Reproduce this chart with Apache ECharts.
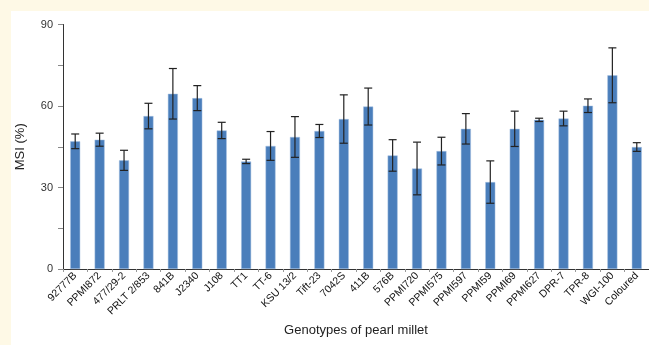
<!DOCTYPE html>
<html><head><meta charset="utf-8">
<script src="https://cdn.jsdelivr.net/npm/echarts@6/dist/echarts.min.js"></script>
<style>html,body{margin:0;padding:0;background:#fff}#c{width:649px;height:345px}</style>
</head><body><div id="c"></div>
<script>
var categories = ['92777B','PPMI872','477/29-2','PRLT 2/853','841B','J2340','J108','TT1','TT-6','KSU 13/2','Tift-23','7042S','411B','576B','PPMI720','PPMI575','PPMI597','PPMI59','PPMI69','PPMI627','DPR-7','TPR-8','WGI-100','Coloured'];
var msi = [47.0,47.6,40.0,56.3,64.5,62.9,51.0,39.6,45.3,48.6,50.8,55.2,59.8,41.8,37.0,43.4,51.6,32.0,51.6,54.9,55.4,60.1,71.3,44.9];
var errs = [2.7,2.4,3.7,4.7,9.3,4.6,3.0,0.8,5.3,7.5,2.4,8.9,6.8,5.8,9.7,5.1,5.6,7.8,6.5,0.6,2.7,2.5,10.1,1.6];
var yTicks = [0,30,60,90];

var chart = echarts.init(document.getElementById('c'));
var errData = msi.map(function(v,i){return [i, v-errs[i], v+errs[i]];});
chart.setOption({
  animation:false,
  backgroundColor:'#ffffff',
  graphic:[
    {type:'rect',left:0,top:0,shape:{width:649,height:11},style:{fill:'#fef9e6'},z:-10},
    {type:'rect',left:0,top:0,shape:{width:11,height:345},style:{fill:'#fef9e6'},z:-10}
  ],
  grid:{left:63,right:0,top:24.5,bottom:76,containLabel:false},
  xAxis:{
    type:'category',data:categories,
    name:'Genotypes of pearl millet',nameLocation:'middle',nameGap:54,
    nameTextStyle:{fontFamily:'Liberation Sans',fontSize:13,color:'#222'},
    axisLine:{lineStyle:{color:'#333',width:1}},
    axisTick:{show:true,length:3,lineStyle:{color:'#999'}},
    axisLabel:{rotate:45,fontFamily:'Liberation Sans',fontSize:10.5,color:'#111',margin:5,interval:0}
  },
  yAxis:{
    type:'value',min:0,max:90,interval:15,
    name:'MSI (%)',nameLocation:'middle',nameGap:36,
    nameTextStyle:{fontFamily:'Liberation Sans',fontSize:13,color:'#222'},
    axisLine:{show:true,lineStyle:{color:'#333',width:1}},
    axisTick:{show:true,length:5,lineStyle:{color:'#888'}},
    splitLine:{show:false},
    axisLabel:{fontFamily:'Liberation Sans',fontSize:11,color:'#333',margin:10,
      formatter:function(v){return yTicks.indexOf(v)>=0?String(v):'';}}
  },
  series:[
    {type:'bar',data:msi,barWidth:10,itemStyle:{color:'#4a7ebb',borderColor:'#a9c2e3',borderWidth:0.5}},
    {type:'custom',data:errData,z:10,
     renderItem:function(params,api){
       var x=api.value(0), lo=api.coord([x,api.value(1)]), hi=api.coord([x,api.value(2)]);
       var cx=lo[0], hw=4;
       var st={stroke:'#222',lineWidth:1.2};
       return {type:'group',children:[
         {type:'line',shape:{x1:cx,y1:lo[1],x2:cx,y2:hi[1]},style:st},
         {type:'line',shape:{x1:cx-hw,y1:lo[1],x2:cx+hw,y2:lo[1]},style:st},
         {type:'line',shape:{x1:cx-hw,y1:hi[1],x2:cx+hw,y2:hi[1]},style:st}
       ]};
     }}
  ]
});
</script></body></html>
